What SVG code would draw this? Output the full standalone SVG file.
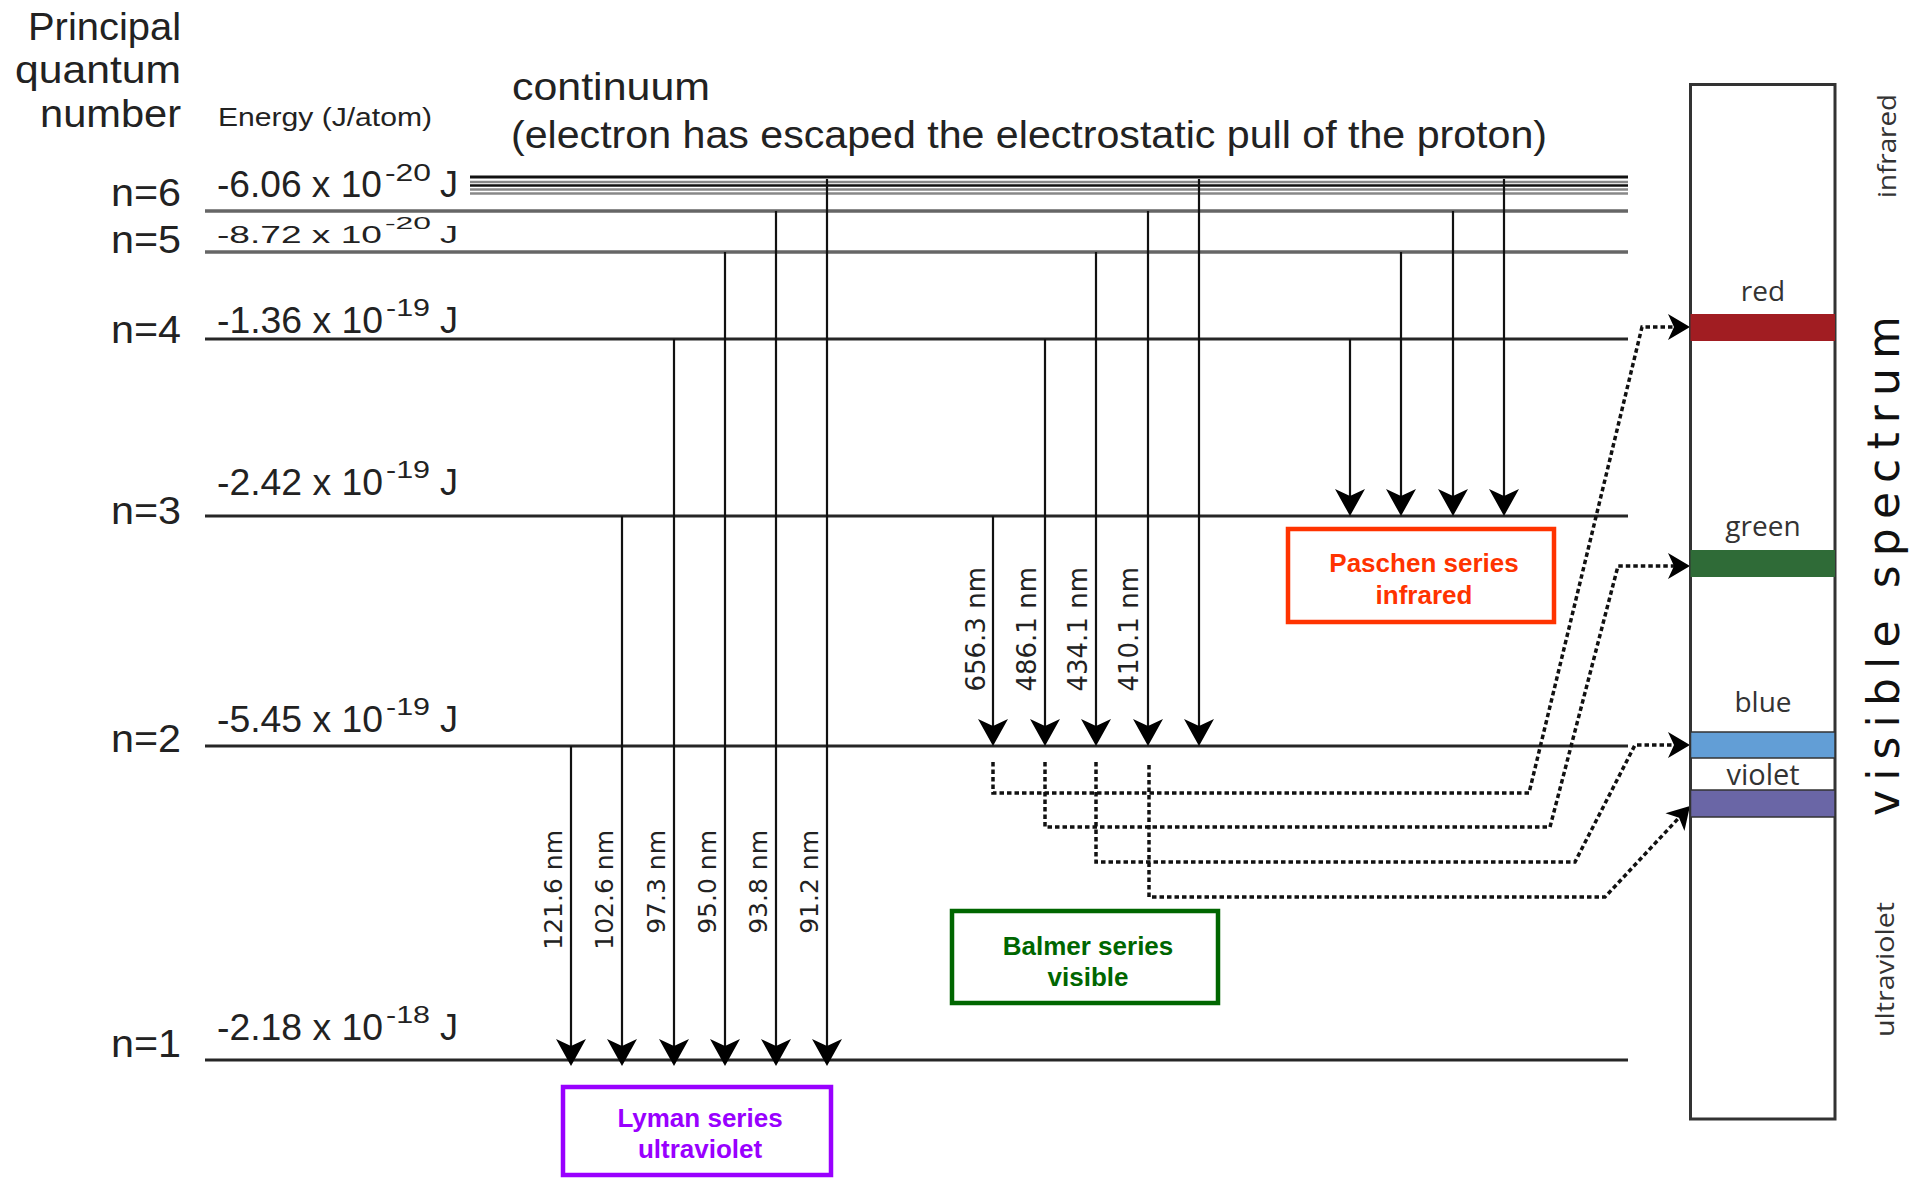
<svg xmlns="http://www.w3.org/2000/svg" width="1916" height="1178" viewBox="0 0 1916 1178">
<style>
.lvl{stroke:#262626;stroke-width:3}
.lvlg{stroke:#666;stroke-width:3.5}
.cl{stroke:#111;stroke-width:2.5}
.clg{stroke:#888;stroke-width:2.5}
.tr{stroke:#111;stroke-width:2.2;fill:none}
.dash{stroke:#111;stroke-width:3.5;fill:none;stroke-dasharray:4.5 3}
.t{font-family:"Liberation Sans",Arial,sans-serif;fill:#222}
.nm{font-family:"DejaVu Sans",sans-serif;font-size:25px;fill:#222}
.box{fill:#fff;stroke-width:4.5}
.lbl{font-family:"Liberation Sans",Arial,sans-serif;font-weight:bold;font-size:26px;text-anchor:middle}
.spec{font-family:"Open Sans",sans-serif;fill:#333;text-anchor:middle}
.band{stroke:#333;stroke-width:1.5}
</style>
<defs>
<marker id="ah" viewBox="-18 -16 29 32" markerWidth="29" markerHeight="32" refX="0" refY="0" orient="auto" markerUnits="userSpaceOnUse">
<path d="M10,0 L-17,-15 L-10,0 L-17,15 Z" fill="#000"/>
</marker>
<marker id="dh" viewBox="-15 -14 24 28" markerWidth="24" markerHeight="28" refX="0" refY="0" orient="auto" markerUnits="userSpaceOnUse">
<path d="M8,0 L-14,-13 L-8,0 L-14,13 Z" fill="#000"/>
</marker>
</defs>
<rect width="1916" height="1178" fill="#fff"/>

<g id="header">
<text class="t" font-size="38" text-anchor="end" x="181" y="40" textLength="153" lengthAdjust="spacingAndGlyphs">Principal</text>
<text class="t" font-size="38" text-anchor="end" x="181" y="83" textLength="166" lengthAdjust="spacingAndGlyphs">quantum</text>
<text class="t" font-size="38" text-anchor="end" x="181" y="127" textLength="141" lengthAdjust="spacingAndGlyphs">number</text>
<text class="t" font-size="26" x="218" y="126" textLength="214" lengthAdjust="spacingAndGlyphs">Energy (J/atom)</text>
<text class="t" font-size="38" x="512" y="100" textLength="198" lengthAdjust="spacingAndGlyphs">continuum</text>
<text class="t" font-size="38" x="511" y="148" textLength="1036" lengthAdjust="spacingAndGlyphs">(electron has escaped the electrostatic pull of the proton)</text>
</g>

<g id="continuum">
<line class="cl" x1="470" y1="177" x2="1628" y2="177" style="stroke-width:3"/>
<line class="clg" x1="470" y1="182" x2="1628" y2="182"/>
<line class="cl" x1="470" y1="185.5" x2="1628" y2="185.5"/>
<line class="clg" x1="470" y1="189.5" x2="1628" y2="189.5"/>
<line class="clg" x1="470" y1="193.5" x2="1628" y2="193.5"/>
</g>

<g id="level-n6">
<line class="lvlg" x1="205" y1="211" x2="1628" y2="211"/>
<text class="t" font-size="38" text-anchor="end" x="181" y="206" textLength="70" lengthAdjust="spacingAndGlyphs">n=6</text>
<text class="t" font-size="36"><tspan x="217" y="197" textLength="165" lengthAdjust="spacingAndGlyphs">-6.06 x 10</tspan><tspan x="385" y="181" font-size="24" textLength="46" lengthAdjust="spacingAndGlyphs">-20</tspan><tspan x="430" y="197"> J</tspan></text>
</g>
<g id="level-n5">
<line class="lvlg" x1="205" y1="252" x2="1628" y2="252"/>
<text class="t" font-size="38" text-anchor="end" x="181" y="253" textLength="70" lengthAdjust="spacingAndGlyphs">n=5</text>
<g transform="matrix(1,0,0,0.65,0,85.05)">
<text class="t" font-size="36"><tspan x="217" y="243" textLength="165" lengthAdjust="spacingAndGlyphs">-8.72 x 10</tspan><tspan x="385" y="222" font-size="24" textLength="46" lengthAdjust="spacingAndGlyphs">-20</tspan><tspan x="430" y="243"> J</tspan></text>
</g>
</g>
<g id="level-n4">
<line class="lvl" x1="205" y1="339" x2="1628" y2="339"/>
<text class="t" font-size="38" text-anchor="end" x="181" y="343" textLength="70" lengthAdjust="spacingAndGlyphs">n=4</text>
<text class="t" font-size="36"><tspan x="217" y="333" textLength="166" lengthAdjust="spacingAndGlyphs">-1.36 x 10</tspan><tspan x="386" y="316" font-size="24" textLength="44" lengthAdjust="spacingAndGlyphs">-19</tspan><tspan x="430" y="333"> J</tspan></text>
</g>
<g id="level-n3">
<line class="lvl" x1="205" y1="516" x2="1628" y2="516"/>
<text class="t" font-size="38" text-anchor="end" x="181" y="524" textLength="70" lengthAdjust="spacingAndGlyphs">n=3</text>
<text class="t" font-size="36"><tspan x="217" y="495" textLength="166" lengthAdjust="spacingAndGlyphs">-2.42 x 10</tspan><tspan x="386" y="478" font-size="24" textLength="44" lengthAdjust="spacingAndGlyphs">-19</tspan><tspan x="430" y="495"> J</tspan></text>
</g>
<g id="level-n2">
<line class="lvl" x1="205" y1="746" x2="1628" y2="746"/>
<text class="t" font-size="38" text-anchor="end" x="181" y="752" textLength="70" lengthAdjust="spacingAndGlyphs">n=2</text>
<text class="t" font-size="36"><tspan x="217" y="732" textLength="166" lengthAdjust="spacingAndGlyphs">-5.45 x 10</tspan><tspan x="386" y="715" font-size="24" textLength="44" lengthAdjust="spacingAndGlyphs">-19</tspan><tspan x="430" y="732"> J</tspan></text>
</g>
<g id="level-n1">
<line class="lvl" x1="205" y1="1060" x2="1628" y2="1060"/>
<text class="t" font-size="38" text-anchor="end" x="181" y="1057" textLength="70" lengthAdjust="spacingAndGlyphs">n=1</text>
<text class="t" font-size="36"><tspan x="217" y="1040" textLength="166" lengthAdjust="spacingAndGlyphs">-2.18 x 10</tspan><tspan x="386" y="1023" font-size="24" textLength="44" lengthAdjust="spacingAndGlyphs">-18</tspan><tspan x="430" y="1040"> J</tspan></text>
</g>

<g id="connectors">
<g id="lyman-transitions">
<line class="tr" x1="571" y1="746" x2="571" y2="1056" marker-end="url(#ah)"/>
<line class="tr" x1="622" y1="516" x2="622" y2="1056" marker-end="url(#ah)"/>
<line class="tr" x1="674" y1="339" x2="674" y2="1056" marker-end="url(#ah)"/>
<line class="tr" x1="725" y1="252" x2="725" y2="1056" marker-end="url(#ah)"/>
<line class="tr" x1="776" y1="211" x2="776" y2="1056" marker-end="url(#ah)"/>
<line class="tr" x1="827" y1="179" x2="827" y2="1056" marker-end="url(#ah)"/>
<text class="nm" text-anchor="end" transform="translate(562,830) rotate(-90)">121.6 nm</text>
<text class="nm" text-anchor="end" transform="translate(613,830) rotate(-90)">102.6 nm</text>
<text class="nm" text-anchor="end" transform="translate(665,830) rotate(-90)">97.3 nm</text>
<text class="nm" text-anchor="end" transform="translate(716,830) rotate(-90)">95.0 nm</text>
<text class="nm" text-anchor="end" transform="translate(767,830) rotate(-90)">93.8 nm</text>
<text class="nm" text-anchor="end" transform="translate(818,830) rotate(-90)">91.2 nm</text>
</g>
<g id="balmer-transitions">
<line class="tr" x1="993" y1="516" x2="993" y2="736" marker-end="url(#ah)"/>
<line class="tr" x1="1045" y1="339" x2="1045" y2="736" marker-end="url(#ah)"/>
<line class="tr" x1="1096" y1="252" x2="1096" y2="736" marker-end="url(#ah)"/>
<line class="tr" x1="1148" y1="211" x2="1148" y2="736" marker-end="url(#ah)"/>
<line class="tr" x1="1199" y1="179" x2="1199" y2="736" marker-end="url(#ah)"/>
<text class="nm" style="font-size:26px" text-anchor="end" transform="translate(985,567) rotate(-90)">656.3 nm</text>
<text class="nm" style="font-size:26px" text-anchor="end" transform="translate(1036,567) rotate(-90)">486.1 nm</text>
<text class="nm" style="font-size:26px" text-anchor="end" transform="translate(1087,567) rotate(-90)">434.1 nm</text>
<text class="nm" style="font-size:26px" text-anchor="end" transform="translate(1138,567) rotate(-90)">410.1 nm</text>
</g>
<g id="paschen-transitions">
<line class="tr" x1="1350" y1="339" x2="1350" y2="506" marker-end="url(#ah)"/>
<line class="tr" x1="1401" y1="252" x2="1401" y2="506" marker-end="url(#ah)"/>
<line class="tr" x1="1453" y1="211" x2="1453" y2="506" marker-end="url(#ah)"/>
<line class="tr" x1="1504" y1="179" x2="1504" y2="506" marker-end="url(#ah)"/>
</g>
<g id="balmer-to-spectrum">
<path class="dash" d="M993,762 V793 H1529 L1642,327 H1682" marker-end="url(#dh)"/>
<path class="dash" d="M1045,762 V827 H1550 L1618,566 H1682" marker-end="url(#dh)"/>
<path class="dash" d="M1096,762 V862 H1575 L1635,745 H1682" marker-end="url(#dh)"/>
<path class="dash" d="M1149,765 V897 H1605 L1684.5,811.8" marker-end="url(#dh)"/>
</g>
</g>

<g id="lyman-box">
<rect class="box" x="563" y="1087" width="268" height="88" stroke="#9900ff"/>
<text class="lbl" fill="#9900ff" x="700" y="1127">Lyman series</text>
<text class="lbl" fill="#9900ff" x="700" y="1158">ultraviolet</text>
</g>
<g id="balmer-box">
<rect class="box" x="952" y="911" width="266" height="92" stroke="#006600"/>
<text class="lbl" fill="#006600" x="1088" y="955">Balmer series</text>
<text class="lbl" fill="#006600" x="1088" y="986">visible</text>
</g>
<g id="paschen-box">
<rect class="box" x="1288" y="529" width="266" height="93" stroke="#ff3300"/>
<text class="lbl" fill="#ff3300" x="1424" y="572">Paschen series</text>
<text class="lbl" fill="#ff3300" x="1424" y="604">infrared</text>
</g>

<g id="spectrum">
<rect x="1690.5" y="84.5" width="144.5" height="1034.5" fill="none" stroke="#333" stroke-width="3"/>
<rect x="1690.5" y="314" width="144.5" height="27" fill="#a11d22"/>
<rect x="1690.5" y="550" width="144.5" height="27" fill="#2f6b37"/>
<rect class="band" x="1690.5" y="732" width="144.5" height="26" fill="#629ed6"/>
<rect class="band" x="1690.5" y="790" width="144.5" height="27" fill="#6a66a6"/>
<text class="spec" font-size="28" x="1763" y="301">red</text>
<text class="spec" font-size="28" x="1763" y="536">green</text>
<text class="spec" font-size="28" x="1763" y="712">blue</text>
<text class="spec" font-size="29" x="1763" y="785">violet</text>
<text class="spec" font-size="26" style="text-anchor:start" transform="translate(1896,198) rotate(-90)" textLength="104" lengthAdjust="spacingAndGlyphs">infrared</text>
<text class="spec" font-size="26" style="text-anchor:start" transform="translate(1894,1037) rotate(-90)" textLength="135" lengthAdjust="spacingAndGlyphs">ultraviolet</text>
<text font-family="DejaVu Sans, sans-serif" font-size="44" fill="#111" transform="translate(1899,816) rotate(-90)" textLength="500" lengthAdjust="spacing">visible spectrum</text>
</g>
</svg>
